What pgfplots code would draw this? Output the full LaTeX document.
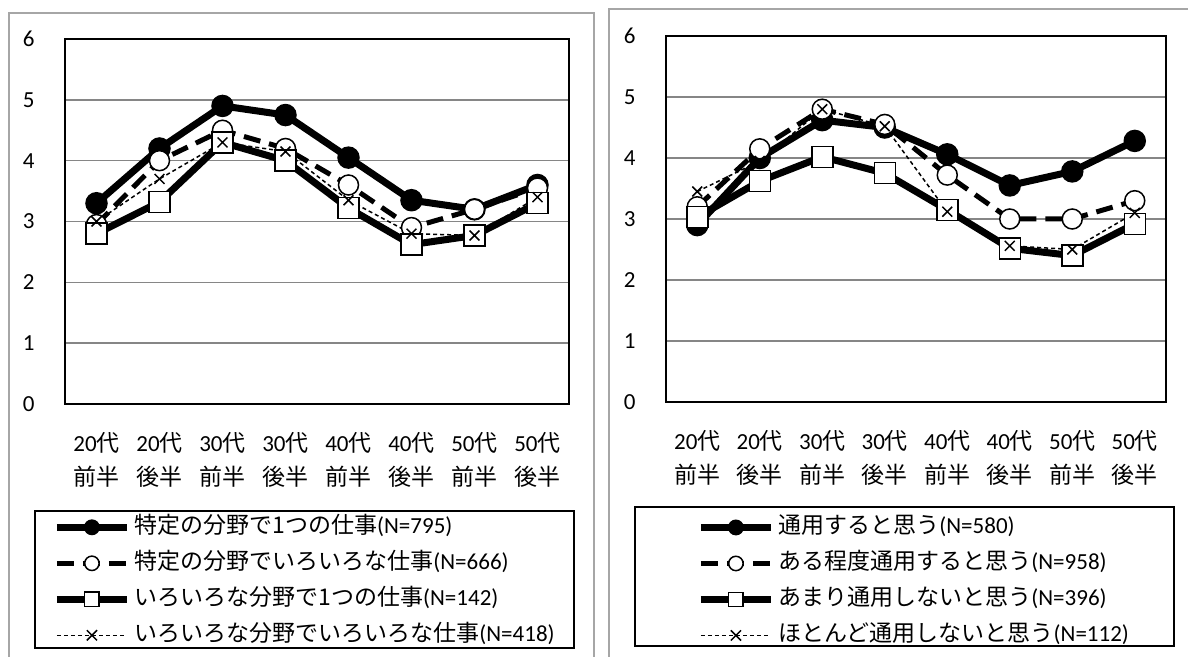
\documentclass[border=0pt]{standalone}
\usepackage{fontspec}
\setmainfont{Carlito}
\newfontfamily\jp{Noto Sans CJK JP}
\usepackage{pgfplots}
\usepackage{pgfplotstable}
\pgfplotsset{compat=1.18}

\definecolor{framegray}{RGB}{166,166,166}
\definecolor{gridgray}{RGB}{134,134,134}

% x = category centre
\pgfplotstableread{
x   a     b     c     d
0.5 3.30  2.95  2.80  3.00
1.5 4.20  4.00  3.32  3.70
2.5 4.90  4.50  4.30  4.30
3.5 4.75  4.20  4.00  4.15
4.5 4.05  3.60  3.22  3.35
5.5 3.35  2.90  2.62  2.80
6.5 3.20  3.20  2.77  2.77
7.5 3.60  3.55  3.30  3.40
}\leftdata

\pgfplotstableread{
x   a     b     c     d
0.5 2.90  3.20  3.03  3.45
1.5 4.00  4.15  3.62  3.95
2.5 4.62  4.80  4.02  4.80
3.5 4.50  4.55  3.75  4.52
4.5 4.06  3.72  3.15  3.12
5.5 3.55  3.00  2.52  2.56
6.5 3.78  3.00  2.40  2.50
7.5 4.28  3.30  2.92  3.10
}\rightdata

\newcommand\lab{\fontsize{11.5pt}{17pt}\selectfont}

\pgfplotsset{
  agechart/.style={
    scale only axis, anchor=south west,
    xmin=0, xmax=8, ymin=0, ymax=6,
    axis line style={black, line width=1pt},
    ytick={0,...,6}, ymajorgrids,
    major grid style={gridgray, line width=0.75pt},
    ytick style={draw=none},
    xtick={0.5,1.5,2.5,3.5,4.5,5.5,6.5,7.5}, xtick style={draw=none},
    minor xtick={1,...,7}, minor tick length=4pt,
    minor x tick style={black, line width=1pt},
    tick align=inside, tick pos=left,
    xticklabels={{20{\jp 代}\\{\jp 前半}},{20{\jp 代}\\{\jp 後半}},
                 {30{\jp 代}\\{\jp 前半}},{30{\jp 代}\\{\jp 後半}},
                 {40{\jp 代}\\{\jp 前半}},{40{\jp 代}\\{\jp 後半}},
                 {50{\jp 代}\\{\jp 前半}},{50{\jp 代}\\{\jp 後半}}},
    xticklabel style={font=\lab, align=center, inner sep=0pt, anchor=north, yshift=-14pt},
    yticklabel style={font=\lab, inner sep=0pt, anchor=east, xshift=-15pt},
    /pgf/number format/assume math mode=true,
    legend cell align=left,
    legend style={draw=none, fill=none, inner sep=0pt, anchor=north west,
      row sep=7.5pt, column sep=2pt, font=\lab,
      nodes={inner sep=0pt, text height=8.5pt, text depth=2pt}},
    legend image code/.code={%
      \draw[mark repeat=2, mark phase=2, #1]
        plot coordinates {(0pt,0pt) (17.5pt,0pt) (35pt,0pt)};},
    legend image post style={mark size=3.6pt},
  },
  s1/.style={black, line width=3.5pt, mark=*, mark size=5.25pt,
    mark options={solid, fill=black, line width=0.75pt}},
  s2/.style={black, line width=2.5pt, dash pattern=on 8.5pt off 4.5pt,
    mark=*, mark size=5pt, mark options={solid, fill=white, line width=0.75pt}},
  s3/.style={black, line width=3.5pt, mark=square*, mark size=5.25pt,
    mark options={solid, fill=white, line width=0.75pt}},
  s4/.style={black, line width=0.75pt, dash pattern=on 2pt off 1.5pt,
    mark=x, mark size=3.5pt, mark options={solid, line width=0.75pt}},
}

\begin{document}
\begin{tikzpicture}
\useasboundingbox (0,0) rectangle (594pt,328.5pt);
\draw[framegray, line width=1pt] (4.5pt,-2pt) -- (4.5pt,322pt) -- (297pt,322pt) -- (297pt,-2pt);
\draw[framegray, line width=1pt] (304.5pt,-2pt) -- (304.5pt,324pt) -- (600pt,324pt);
\draw[black, line width=1pt] (17.5pt,4.5pt) rectangle (287pt,73pt);
\draw[black, line width=1pt] (317.5pt,5.5pt) rectangle (587pt,75pt);

\begin{axis}[agechart, at={(32.5pt,126.5pt)}, width=252pt, height=182.5pt,
    legend style={at={(-0.0238,-0.308)}}]
  \addplot[s1] table[x=x, y=a] {\leftdata};
  \addlegendentry{{\jp 特定の分野で1つの仕事}(N=795)}
  \addplot[s2] table[x=x, y=b] {\leftdata};
  \addlegendentry{{\jp 特定の分野でいろいろな仕事}(N=666)}
  \addplot[s3] table[x=x, y=c] {\leftdata};
  \addlegendentry{{\jp いろいろな分野で1つの仕事}(N=142)}
  \addplot[s4] table[x=x, y=d] {\leftdata};
  \addlegendentry{{\jp いろいろな分野でいろいろな仕事}(N=418)}
\end{axis}

\begin{axis}[agechart, at={(333pt,127.5pt)}, width=250pt, height=183pt,
    legend style={at={(0.062,-0.313)}}]
  \addplot[s1] table[x=x, y=a] {\rightdata};
  \addlegendentry{{\jp 通用すると思う}(N=580)}
  \addplot[s2] table[x=x, y=b] {\rightdata};
  \addlegendentry{{\jp ある程度通用すると思う}(N=958)}
  \addplot[s3] table[x=x, y=c] {\rightdata};
  \addlegendentry{{\jp あまり通用しないと思う}(N=396)}
  \addplot[s4] table[x=x, y=d] {\rightdata};
  \addlegendentry{{\jp ほとんど通用しないと思う}(N=112)}
\end{axis}
\end{tikzpicture}
\end{document}
